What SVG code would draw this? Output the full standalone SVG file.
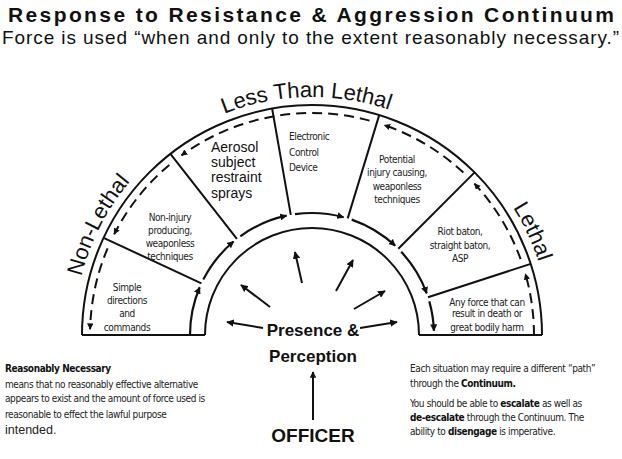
<svg xmlns="http://www.w3.org/2000/svg" width="622" height="459" viewBox="0 0 622 459">
<style>
.ln{fill:none;stroke:#111;stroke-width:2}
.ds{fill:none;stroke:#111;stroke-width:2;stroke-dasharray:10 6}
.ar{fill:none;stroke:#111;stroke-width:2.2}
.c{font-family:"DejaVu Sans Condensed","Liberation Sans",sans-serif;font-size:10px;letter-spacing:-0.4px;fill:#222}
.m{text-anchor:middle}
.big{font-family:"Liberation Sans",Arial,sans-serif;font-size:22px;fill:#111}
</style>
<defs>
<marker id="ah" viewBox="0 0 10 10" refX="9" refY="5" markerWidth="3.2" markerHeight="3.2" orient="auto" markerUnits="strokeWidth"><path d="M0,0L10,5L0,10z" fill="#111"/></marker>
<marker id="ah2" viewBox="0 0 10 10" refX="9" refY="5" markerWidth="3.8" markerHeight="3.8" orient="auto" markerUnits="strokeWidth"><path d="M0,0L10,5L0,10z" fill="#111"/></marker>
<path id="tp" d="M74,335A238,238 0 0 1 550,335"/>
</defs>
<g id="title">
<text x="8" y="22" textLength="606" font-family="Liberation Sans,Arial,sans-serif" font-size="21" font-weight="bold" fill="#111">Response to Resistance &amp; Aggression Continuum</text>
<text x="2" y="44" textLength="617" font-family="Liberation Sans,Arial,sans-serif" font-size="19" fill="#111">Force is used “when and only to the extent reasonably necessary.”</text>
</g>
<g id="frame">
<path class="ln" d="M82,335A230,230 0 0 1 542,335"/>
<path class="ln" d="M205,335A107,107 0 0 1 419,335"/>
<path class="ln" d="M82,335H205M419,335H542"/>
<path class="ln" d="M201.4,283.4L103.6,237.8M236.9,238.9L170.4,153.8M290.8,214.9L272.1,108.5M347.7,218.4L379.2,115.1M398.3,248.7L474.6,172.4M428,297.3L530.7,263.9"/>
</g>
<g id="connectors">
<g class="ar" marker-end="url(#ah)">
<path d="M190,335A122,122 0 0 1 199.7,287.3"/>
<path d="M203.3,279.6A122,122 0 0 1 233.6,241.5"/>
<path d="M240.3,236.3A122,122 0 0 1 286.6,215.7"/>
<path d="M295,214.2A122,122 0 0 1 343.6,217.2"/>
<path d="M351.7,219.6A122,122 0 0 1 395.2,245.8"/>
<path d="M401.2,251.8A122,122 0 0 1 426.7,293.3"/>
<path d="M429.3,301.4A122,122 0 0 1 433.9,330.7"/>
</g>
<g class="ds" marker-end="url(#ah)">
<path d="M534,335A222,222 0 0 0 525.4,273.8"/>
<path d="M520.6,259.1A222,222 0 0 0 474.4,183.6"/>
<path d="M463.4,172.6A222,222 0 0 0 384.3,125.1"/>
<path d="M369.5,120.6A222,222 0 0 0 181.5,155.4"/>
<path d="M169.3,164.9A222,222 0 0 0 114.2,234.2"/>
<path d="M107.6,248.3A222,222 0 0 0 90.1,329.2"/>
</g>
<g class="ln" stroke-width="1.3" marker-end="url(#ah2)">
<path d="M263,328L227,322"/>
<path d="M360,328L397,322"/>
<path d="M270,307L241,285"/>
<path d="M302,283L295,252"/>
<path d="M336,291L353,260"/>
<path d="M354,309L385,291"/>
</g>
<path class="ln" stroke-width="2.5" d="M313,420V372" marker-end="url(#ah)"/>
</g>
<g id="arc-labels" class="big">
<text><textPath href="#tp" startOffset="113" text-anchor="middle">Non-Lethal</textPath></text>
<text><textPath href="#tp" startOffset="368" text-anchor="middle">Less Than Lethal</textPath></text>
<text><textPath href="#tp" startOffset="643" text-anchor="middle">Lethal</textPath></text>
</g>
<g id="seg1" class="c m"><text x="127" y="291">Simple</text><text x="127" y="304">directions</text><text x="127" y="317">and</text><text x="127" y="331">commands</text></g>
<g id="seg2" class="c m"><text x="170" y="221">Non-injury</text><text x="170" y="234">producing,</text><text x="170" y="247">weaponless</text><text x="170" y="260">techniques</text></g>
<g id="seg3" font-family="Liberation Sans,Arial,sans-serif" font-size="14" fill="#111"><text x="211" y="152">Aerosol</text><text x="211" y="167">subject</text><text x="211" y="182">restraint</text><text x="211" y="198">sprays</text></g>
<g id="seg4" class="c"><text x="289" y="140">Electronic</text><text x="289" y="156">Control</text><text x="289" y="171">Device</text></g>
<g id="seg5" class="c m"><text x="397" y="163">Potential</text><text x="397" y="176">injury causing,</text><text x="397" y="190">weaponless</text><text x="397" y="203">techniques</text></g>
<g id="seg6" class="c m"><text x="460" y="235">Riot baton,</text><text x="460" y="249">straight baton,</text><text x="460" y="262">ASP</text></g>
<g id="seg7" class="c m"><text x="487" y="306">Any force that can</text><text x="487" y="317">result in death or</text><text x="487" y="331">great bodily harm</text></g>
<g id="officer" font-family="Liberation Sans,Arial,sans-serif" font-weight="bold" fill="#111" text-anchor="middle">
<text x="313" y="336" font-size="17">Presence  &amp;</text>
<text x="313" y="362" font-size="17">Perception</text>
<text x="313" y="442" font-size="19">OFFICER</text>
</g>
<g id="note-left" class="c" font-size="11">
<text x="5" y="372" font-weight="bold" fill="#111">Reasonably Necessary</text>
<text x="5" y="388">means that no reasonably effective alternative</text>
<text x="5" y="402">appears to exist and the amount of force used is</text>
<text x="5" y="418">reasonable to effect the lawful purpose</text>
<text x="5" y="434" font-family="Liberation Sans,Arial,sans-serif" font-size="12.5" letter-spacing="0">intended.</text>
</g>
<g id="note-right" class="c" font-size="11">
<text x="410" y="372">Each situation may require a different “path”</text>
<text x="410" y="387">through the <tspan font-weight="bold" fill="#111">Continuum.</tspan></text>
<text x="410" y="407">You should be able to <tspan font-weight="bold" fill="#111">escalate</tspan> as well as</text>
<text x="410" y="421"><tspan font-weight="bold" fill="#111">de-escalate</tspan> through the Continuum. The</text>
<text x="410" y="435">ability to <tspan font-weight="bold" fill="#111">disengage</tspan> is imperative.</text>
</g>
</svg>
